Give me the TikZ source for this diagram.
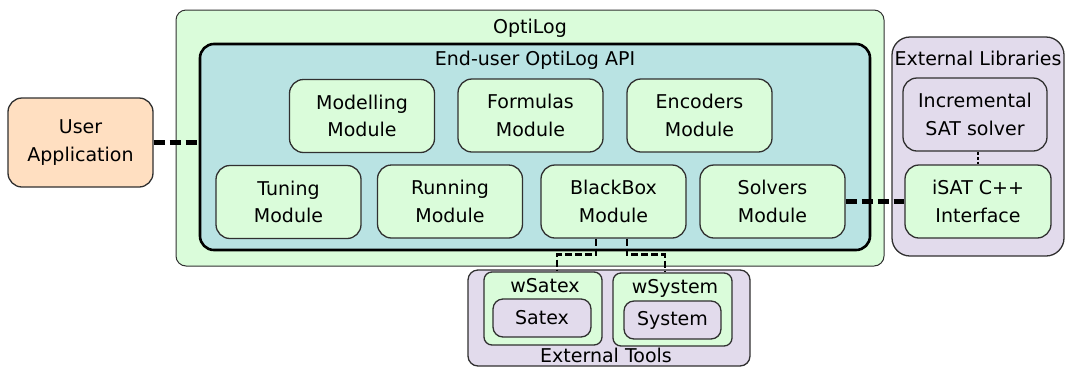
\documentclass[tikz,border=0pt]{standalone}
\usepackage{fontspec}
\setmainfont{DejaVu Sans}
\usetikzlibrary{calc}
\definecolor{lgreen}{HTML}{DAFCDA}
\definecolor{lteal}{HTML}{B9E3E3}
\definecolor{peach}{HTML}{FFDFC1}
\definecolor{lpurple}{HTML}{E2DBEC}
\definecolor{edge}{HTML}{303030}
\begin{document}
\begin{tikzpicture}[x=1pt,y=-1pt,
  font=\fontsize{19}{27.5}\selectfont,
  box/.style={draw=edge, line width=1.3pt, rounded corners=14pt, inner sep=0pt, align=center},
  modbox/.style={box, fill=lgreen, minimum width=145pt, minimum height=73pt},
  title/.style={anchor=base, inner sep=0pt},
  bigdash/.style={line width=5pt, dash pattern=on 11pt off 5pt},
  smalldash/.style={line width=2.5pt, dash pattern=on 7pt off 3pt},
  tinydash/.style={line width=2.5pt, dash pattern=on 3pt off 2pt}
]
\useasboundingbox (0,0) rectangle (1067,368);

% containers
\node[box, fill=lgreen, rounded corners=10pt, line width=1pt, minimum width=708pt, minimum height=256pt] (optilog) at (530,138) {};
\node[box, draw=black, fill=lteal, line width=2.6pt, minimum width=670pt, minimum height=206pt] (api) at (535,147) {};
\node[box, fill=lpurple, rounded corners=18pt, minimum width=172pt, minimum height=219pt] (extlib) at (978,146.5) {};
\node[box, fill=lpurple, rounded corners=10pt, minimum width=282pt, minimum height=96pt] (exttools) at (609,318) {};

% titles
\node[title] (toptilog) at (530,33) {OptiLog};
\node[title] (tapi) at (535,65) {End-user OptiLog API};
\node[title] (textlib) at (978,65) {External Libraries};
\node[title] (texttools) at (606,362) {External Tools};

% user application
\node[box, fill=peach, minimum width=145pt, minimum height=89pt] (user) at (80.5,142.5) {User\\Application};

% modules
\node[modbox] (modelling) at (362,116) {Modelling\\Module};
\node[modbox] (formulas) at (530.5,115.5) {Formulas\\Module};
\node[modbox] (encoders) at (699.5,115.5) {Encoders\\Module};
\node[modbox] (tuning) at (288.5,202) {Tuning\\Module};
\node[modbox] (running) at (450,201.5) {Running\\Module};
\node[modbox] (blackbox) at (613.5,201.5) {BlackBox\\Module};
\node[modbox] (solvers) at (772.5,201.5) {Solvers\\Module};

% external libraries
\node[modbox, fill=lpurple, minimum width=144pt] (incsat) at (975,114.5) {Incremental\\SAT solver};
\node[modbox, minimum width=146pt] (isat) at (978,201.5) {iSAT C++\\Interface};

% external tools
\node[box, fill=lgreen, rounded corners=8pt, minimum width=118pt, minimum height=73pt] (wsatex) at (543,308.5) {};
\node[box, fill=lgreen, rounded corners=8pt, minimum width=119pt, minimum height=73pt] (wsystem) at (672.5,309.5) {};
\node[title] (twsatex) at (545,292) {wSatex};
\node[title] (twsystem) at (675,293) {wSystem};
\node[box, fill=lpurple, rounded corners=10pt, minimum width=98pt, minimum height=38pt] (satex) at (542,318) {Satex};
\node[box, fill=lpurple, rounded corners=10pt, minimum width=97pt, minimum height=38pt] (system) at (672.5,320) {System};

% connectors
\draw[bigdash] (user.east) -- (user.east -| api.west);
\draw[bigdash] (solvers.east) -- (isat.west |- solvers.east);
\draw[tinydash] (isat.north |- incsat.south) -- (isat.north);
\coordinate (bb1) at ([xshift=-17.5pt]blackbox.south);
\coordinate (bb2) at ([xshift=13.5pt]blackbox.south);
\coordinate (ws1) at ([xshift=14pt]wsatex.north);
\coordinate (ws2) at ([xshift=-7.5pt]wsystem.north);
\draw[smalldash] (bb1) -- ++(0pt,-16pt) -| (ws1);
\draw[smalldash] (bb2) -- ++(0pt,-16pt) -| (ws2);
\end{tikzpicture}
\end{document}
